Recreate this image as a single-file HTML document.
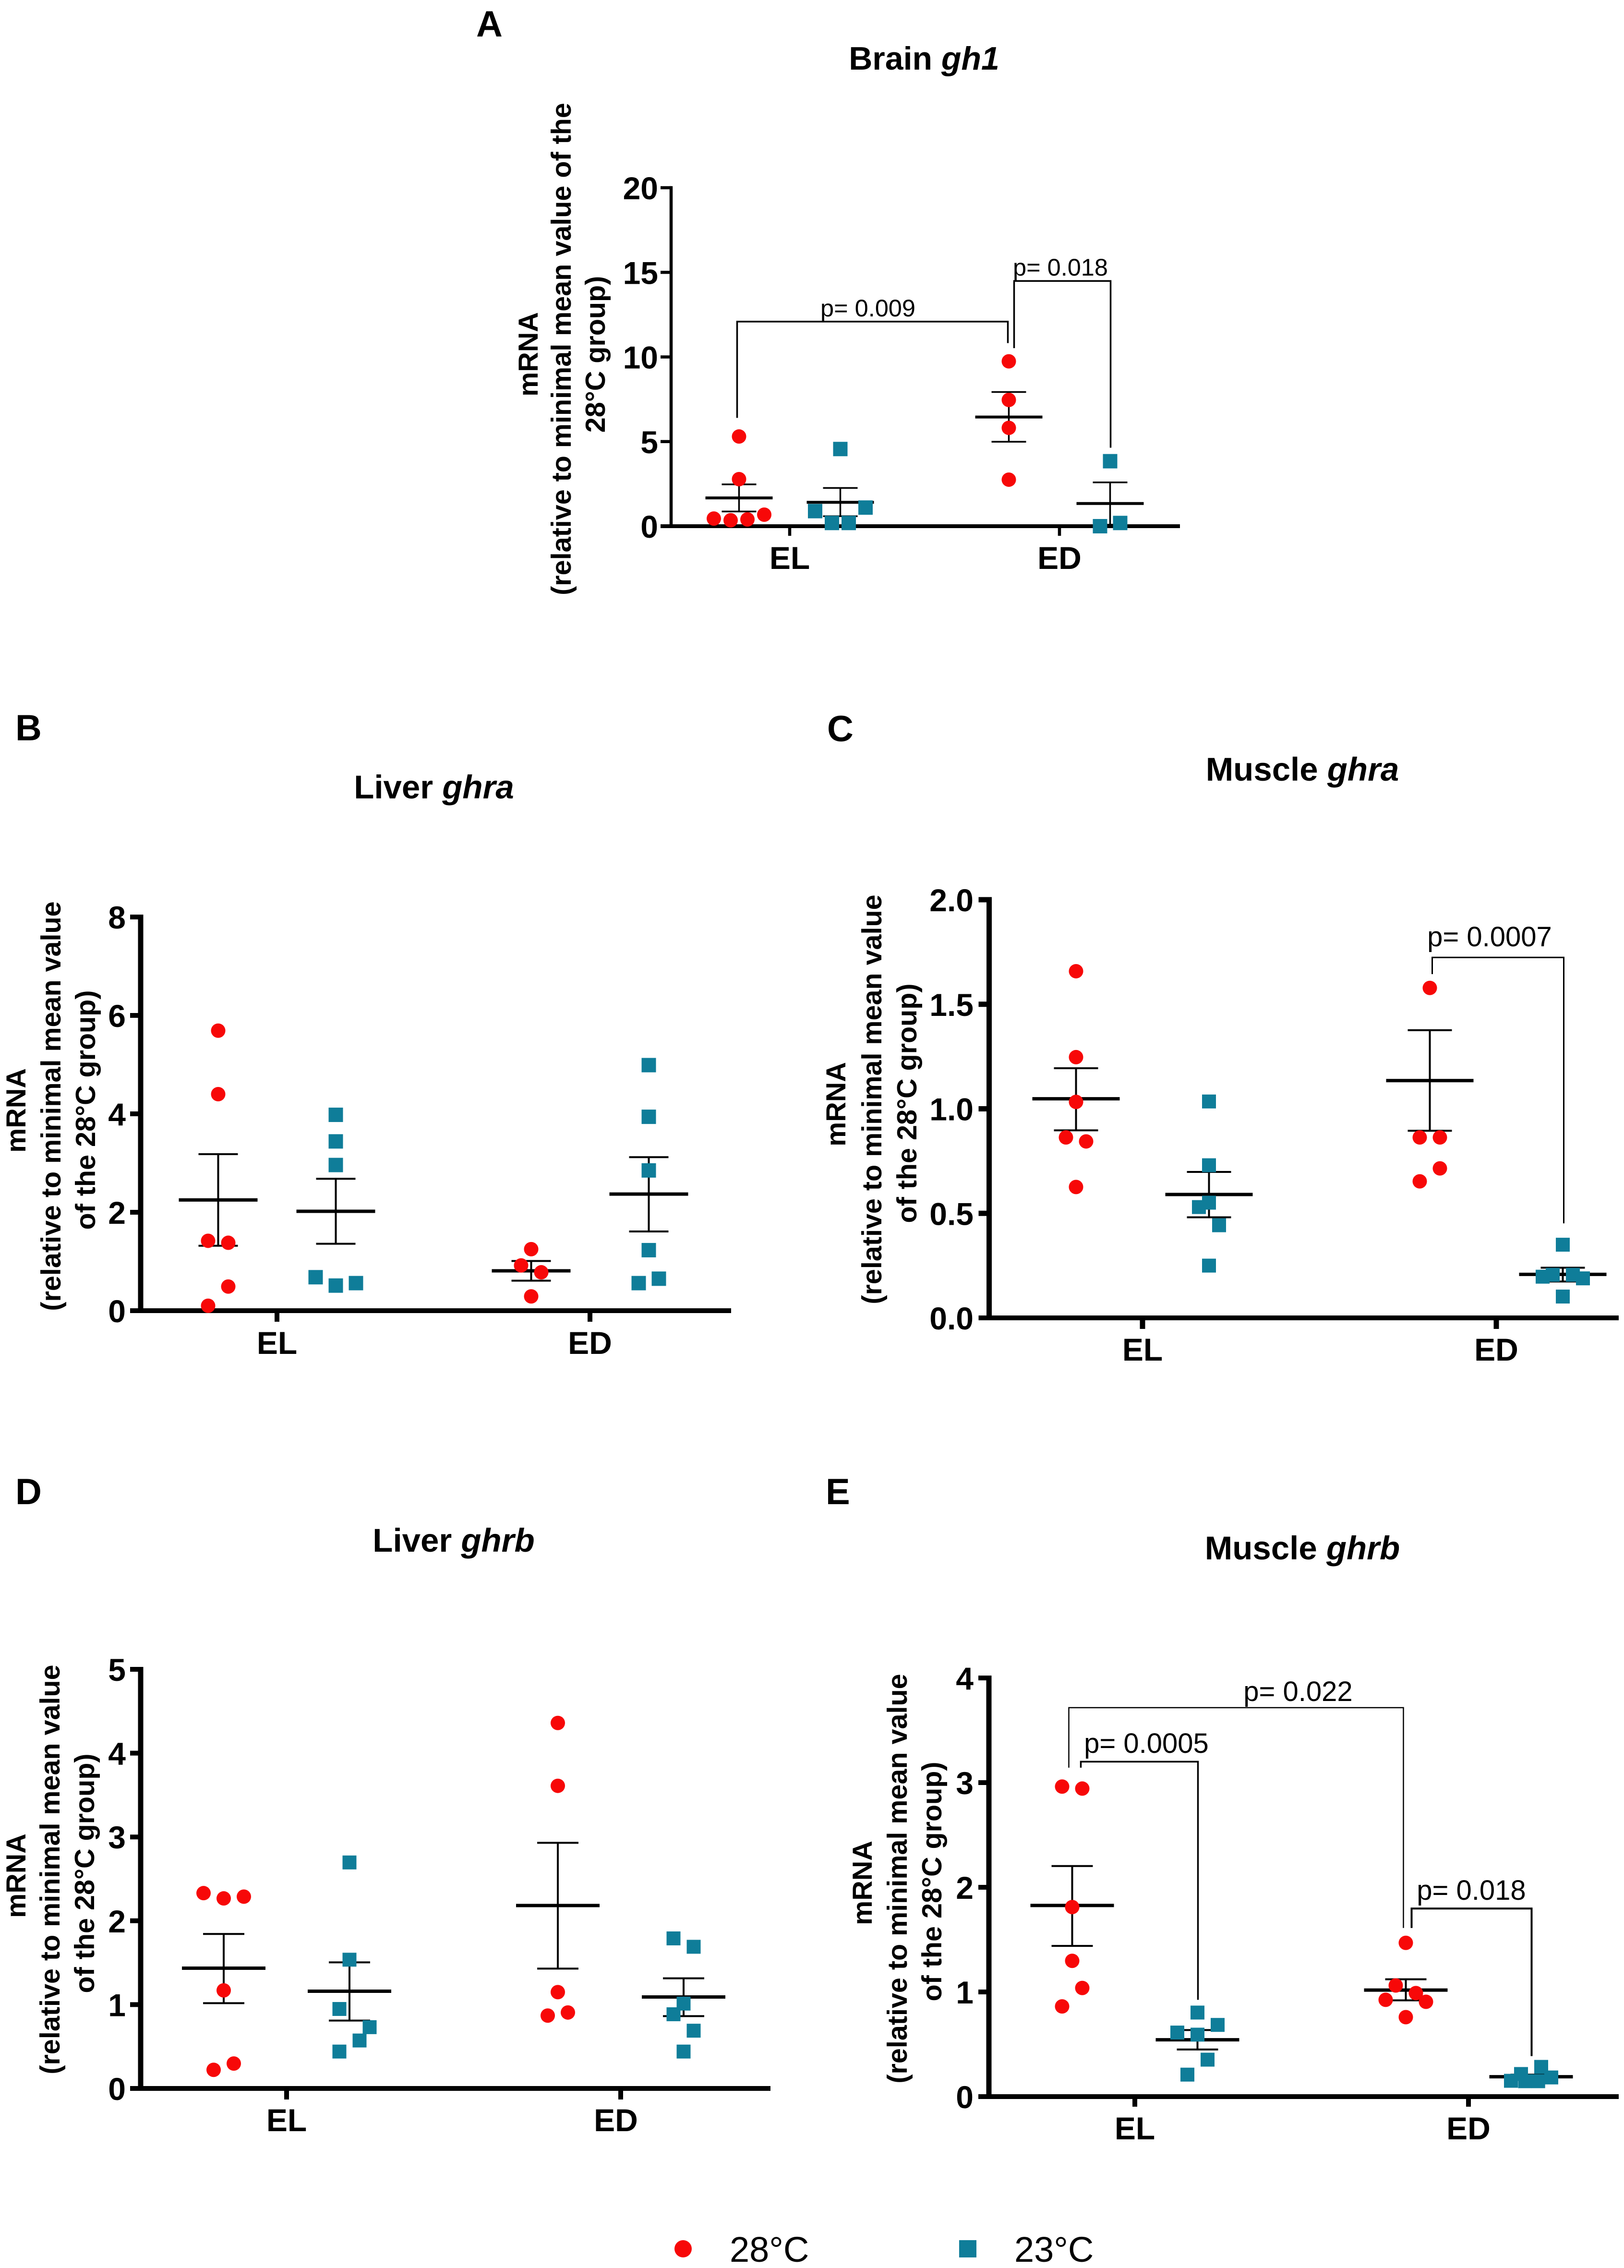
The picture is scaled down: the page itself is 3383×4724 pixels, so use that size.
<!DOCTYPE html>
<html lang="en">
<head>
<meta charset="utf-8">
<title>mRNA expression of gh1, ghra and ghrb at 28°C and 23°C</title>
<style>
html,body{margin:0;padding:0;background:#fff;}
svg{display:block;font-family:"Liberation Sans",Arial,sans-serif;}
.letter{font-weight:700;font-size:76px;fill:#000;}
.title{font-weight:700;font-size:69px;fill:#000;text-anchor:middle;}
.title .it{font-style:italic;}
.ytitle{font-weight:700;font-size:57.5px;fill:#000;text-anchor:middle;}
.pval{font-size:58px;fill:#000;text-anchor:middle;}
.legend{font-size:74px;fill:#000;}
</style>
</head>
<body>
<svg id="figure" xmlns="http://www.w3.org/2000/svg" width="3383" height="4724" viewBox="0 0 3383 4724">
  <rect x="0" y="0" width="3383" height="4724" fill="#ffffff"/>

  <g id="panel-a">
    <text class="letter" x="992" y="76">A</text>
    <text class="title" style="font-size:68px" x="1925" y="145">Brain <tspan class="it">gh1</tspan></text>
    <text class="ytitle" transform="translate(1120,738) rotate(-90)">mRNA</text>
    <text class="ytitle" transform="translate(1189,727) rotate(-90)">(relative to minimal mean value of the</text>
    <text class="ytitle" transform="translate(1260,738) rotate(-90)">28°C group)</text>
    <text class="pval" style="font-size:50.5px" x="1808" y="659">p= 0.009</text>
    <text class="pval" style="font-size:50.5px" x="2209" y="574">p= 0.018</text>
  </g>

  <g id="panel-b">
    <text class="letter" x="32" y="1542">B</text>
    <text class="title" x="904" y="1663">Liver <tspan class="it">ghra</tspan></text>
    <text class="ytitle" transform="translate(53,2313) rotate(-90)">mRNA</text>
    <text class="ytitle" transform="translate(126,2304) rotate(-90)">(relative to minimal mean value</text>
    <text class="ytitle" transform="translate(198,2312) rotate(-90)">of the 28°C group)</text>
  </g>

  <g id="panel-c">
    <text class="letter" x="1723" y="1544">C</text>
    <text class="title" x="2713" y="1626">Muscle <tspan class="it">ghra</tspan></text>
    <text class="ytitle" transform="translate(1761,2300) rotate(-90)">mRNA</text>
    <text class="ytitle" transform="translate(1836,2290) rotate(-90)">(relative to minimal mean value</text>
    <text class="ytitle" transform="translate(1909,2298) rotate(-90)">of the 28°C group)</text>
    <text class="pval" x="3103" y="1971">p= 0.0007</text>
  </g>

  <g id="panel-d">
    <text class="letter" x="32" y="3133">D</text>
    <text class="title" x="945" y="3232">Liver <tspan class="it">ghrb</tspan></text>
    <text class="ytitle" transform="translate(53,3907) rotate(-90)">mRNA</text>
    <text class="ytitle" transform="translate(124,3894) rotate(-90)">(relative to minimal mean value</text>
    <text class="ytitle" transform="translate(196,3902) rotate(-90)">of the 28°C group)</text>
  </g>

  <g id="panel-e">
    <text class="letter" x="1720" y="3133">E</text>
    <text class="title" x="2713" y="3248">Muscle <tspan class="it">ghrb</tspan></text>
    <text class="ytitle" transform="translate(1816,3922) rotate(-90)">mRNA</text>
    <text class="ytitle" transform="translate(1889,3913) rotate(-90)">(relative to minimal mean value</text>
    <text class="ytitle" transform="translate(1961,3919) rotate(-90)">of the 28°C group)</text>
    <text class="pval" x="2704" y="3543">p= 0.022</text>
    <text class="pval" x="2388" y="3651">p= 0.0005</text>
    <text class="pval" x="3065" y="3957">p= 0.018</text>
  </g>

  <g id="legend">
    <g>
      <circle cx="1423" cy="4684" r="18" fill="#f70808"/>
      <text class="legend" x="1520" y="4711">28°C</text>
    </g>
    <g>
      <rect x="1998" y="4666" width="36" height="36" fill="#0f7d99"/>
      <text class="legend" x="2113" y="4711">23°C</text>
    </g>
  </g>
</svg>

<script>
// ---------- Panel A: Brain gh1 ----------
const panelACategories = ['EL', 'ED'];
const panelATicks = [0, 5, 10, 15, 20];
const panelATickLabels = ['0', '5', '10', '15', '20'];
const panelA28EL = [5.3, 2.78, 0.45, 0.35, 0.4, 0.68];
const panelA28ELSlots = [0, 0, -1.5, -0.5, 0.5, 1.5];
const panelA23EL = [4.56, 0.89, 1.1, 0.19, 0.19];
const panelA23ELSlots = [0, -1.5, 1.5, -0.5, 0.5];
const panelA28ED = [9.74, 7.46, 5.81, 2.75];
const panelA28EDSlots = [0, 0, 0, 0];
const panelA23ED = [3.84, 0.0, 0.19];
const panelA23EDSlots = [0, -0.6, 0.6];
const panelAMeans = [1.67, 1.41, 6.45, 1.34];
const panelASemHigh = [2.47, 2.26, 7.93, 2.59];
const panelASemLow = [0.87, 0.59, 4.99, 0.09];
const panelABracketLevels = [[6.4, 12.09, 10.82], [10.52, 14.49, 4.64]];

// ---------- Panel B: Liver ghra ----------
const panelBCategories = ['EL', 'ED'];
const panelBTicks = [0, 2, 4, 6, 8];
const panelBTickLabels = ['0', '2', '4', '6', '8'];
const panelB28EL = [5.69, 4.4, 1.42, 1.38, 0.49, 0.1];
const panelB28ELSlots = [0, 0, -1, 1, 1, -1];
const panelB23EL = [3.98, 3.44, 2.96, 0.68, 0.51, 0.56];
const panelB23ELSlots = [0, 0, 0, -2, 0, 2];
const panelB28ED = [1.25, 0.92, 0.78, 0.29];
const panelB28EDSlots = [0, -1, 1, 0];
const panelB23ED = [4.99, 3.94, 2.85, 1.23, 0.56, 0.65];
const panelB23EDSlots = [0, 0, 0, 0, -1, 1];
const panelBMeans = [2.25, 2.02, 0.81, 2.37];
const panelBSemHigh = [3.18, 2.68, 1.01, 3.12];
const panelBSemLow = [1.32, 1.36, 0.61, 1.61];
const panelBBracketLevels = [];

// ---------- Panel C: Muscle ghra ----------
const panelCCategories = ['EL', 'ED'];
const panelCTicks = [0, 0.5, 1, 1.5, 2];
const panelCTickLabels = ['0.0', '0.5', '1.0', '1.5', '2.0'];
const panelC28EL = [1.658, 1.247, 1.033, 0.863, 0.844, 0.626];
const panelC28ELSlots = [0, 0, 0, -1, 1, 0];
const panelC23EL = [1.035, 0.73, 0.551, 0.53, 0.443, 0.25];
const panelC23ELSlots = [0, 0, 0, -1, 1, 0];
const panelC28ED = [1.578, 0.863, 0.863, 0.715, 0.653];
const panelC28EDSlots = [0, -1, 1, 1, -1];
const panelC23ED = [0.35, 0.206, 0.206, 0.197, 0.189, 0.102];
const panelC23EDSlots = [0, -1, 1, -2, 2, 0];
const panelCMeans = [1.048, 0.59, 1.135, 0.208];
const panelCSemHigh = [1.194, 0.698, 1.376, 0.24];
const panelCSemLow = [0.897, 0.481, 0.895, 0.174];
const panelCBracketLevels = [[1.644, 1.724, 0.452]];

// ---------- Panel D: Liver ghrb ----------
const panelDCategories = ['EL', 'ED'];
const panelDTicks = [0, 1, 2, 3, 4, 5];
const panelDTickLabels = ['0', '1', '2', '3', '4', '5'];
const panelD28EL = [2.33, 2.267, 2.288, 1.17, 0.297, 0.222];
const panelD28ELSlots = [-2, 0, 2, 0, 1, -1];
const panelD23EL = [2.696, 1.536, 0.948, 0.731, 0.572, 0.44];
const panelD23ELSlots = [0, 0, -1, 2, 1, -1];
const panelD28ED = [4.36, 3.61, 1.149, 0.906, 0.869];
const panelD28EDSlots = [0, 0, 0, 1, -1];
const panelD23ED = [1.79, 1.69, 1.012, 0.885, 0.689, 0.44];
const panelD23EDSlots = [-1, 1, 0, -1, 1, 0];
const panelDMeans = [1.435, 1.16, 2.182, 1.091];
const panelDSemHigh = [1.843, 1.504, 2.93, 1.314];
const panelDSemLow = [1.017, 0.81, 1.43, 0.863];
const panelDBracketLevels = [];

// ---------- Panel E: Muscle ghrb ----------
const panelECategories = ['EL', 'ED'];
const panelETicks = [0, 1, 2, 3, 4];
const panelETickLabels = ['0', '1', '2', '3', '4'];
const panelE28EL = [2.962, 2.943, 1.811, 1.297, 1.038, 0.862];
const panelE28ELSlots = [-1, 1, 0, 0, 1, -1];
const panelE23EL = [0.803, 0.685, 0.612, 0.592, 0.353, 0.21];
const panelE23ELSlots = [0, 2, -2, 0, 1, -1];
const panelE28ED = [1.469, 1.062, 0.989, 0.925, 0.906, 0.759];
const panelE28EDSlots = [0, -1, 1, -2, 2, 0];
const panelE23ED = [0.284, 0.216, 0.183, 0.151, 0.147, 0.147];
const panelE23EDSlots = [1, -1, 2, -2, -0.6, 0.7];
const panelEMeans = [1.826, 0.543, 1.018, 0.19];
const panelESemHigh = [2.203, 0.636, 1.121, 0.21];
const panelESemLow = [1.44, 0.45, 0.92, 0.17];
const panelEBracketLevels = [[3.143, 3.716, 1.611], [3.143, 3.2, 0.925], [1.611, 1.797, 0.387]];

// ---------- Layout (geometry only; data lives in the arrays above) ----------
const RED = '#f70808';
const TEAL = '#0f7d99';
const SVG_NS = 'http://www.w3.org/2000/svg';

const panels = [
  { key: 'a', cats: panelACategories, ticks: panelATicks, tickLabels: panelATickLabels,
    groups: [[panelA28EL, panelA28ELSlots], [panelA23EL, panelA23ELSlots], [panelA28ED, panelA28EDSlots], [panelA23ED, panelA23EDSlots]],
    means: panelAMeans, high: panelASemHigh, low: panelASemLow, levels: panelABracketLevels,
    axisX: 1398, endX: 2458, y0: 1096, yTop: 391, vMax: 20, cat0: 1645, catStep: 562, seriesOff: 105.5,
    meanHalf: 70, capHalf: 36, slotPx: 35, r: 15, sq: 30, yAxisW: 6.5, xAxisW: 8, tickW: 6.5, tickLen: 22, xTickLen: 16,
    labelRight: 1371, catBase: 1185, catLabelDx: [0, 0], meanW: 6, bars: 3.5,
    brackets: [{ from: 0, to: 2, dx1: -4, dx2: -2, w: 3.5 }, { from: 2, to: 3, dx1: 11, dx2: 1, w: 3.5 }] },
  { key: 'b', cats: panelBCategories, ticks: panelBTicks, tickLabels: panelBTickLabels,
    groups: [[panelB28EL, panelB28ELSlots], [panelB23EL, panelB23ELSlots], [panelB28ED, panelB28EDSlots], [panelB23ED, panelB23EDSlots]],
    means: panelBMeans, high: panelBSemHigh, low: panelBSemLow, levels: panelBBracketLevels,
    axisX: 293, endX: 1523, y0: 2730, yTop: 1910, vMax: 8, cat0: 577, catStep: 652, seriesOff: 122.5,
    meanHalf: 82, capHalf: 41, slotPx: 21, r: 15, sq: 30, yAxisW: 11, xAxisW: 10, tickW: 10, tickLen: 22, xTickLen: 18,
    labelRight: 262, catBase: 2820, catLabelDx: [0, 0], meanW: 7, bars: 4, brackets: [] },
  { key: 'c', cats: panelCCategories, ticks: panelCTicks, tickLabels: panelCTickLabels,
    groups: [[panelC28EL, panelC28ELSlots], [panelC23EL, panelC23ELSlots], [panelC28ED, panelC28EDSlots], [panelC23ED, panelC23EDSlots]],
    means: panelCMeans, high: panelCSemHigh, low: panelCSemLow, levels: panelCBracketLevels,
    axisX: 2060.5, endX: 3372, y0: 2745, yTop: 1874, vMax: 2, cat0: 2380, catStep: 737, seriesOff: 138.5,
    meanHalf: 91, capHalf: 46, slotPx: 21, r: 15, sq: 29, yAxisW: 11, xAxisW: 10, tickW: 11, tickLen: 22, xTickLen: 18,
    labelRight: 2028, catBase: 2834, catLabelDx: [0, 0], meanW: 7, bars: 4,
    brackets: [{ from: 2, to: 3, dx1: 5, dx2: 2, w: 3 }] },
  { key: 'd', cats: panelDCategories, ticks: panelDTicks, tickLabels: panelDTickLabels,
    groups: [[panelD28EL, panelD28ELSlots], [panelD23EL, panelD23ELSlots], [panelD28ED, panelD28EDSlots], [panelD23ED, panelD23EDSlots]],
    means: panelDMeans, high: panelDSemHigh, low: panelDSemLow, levels: panelDBracketLevels,
    axisX: 293, endX: 1605, y0: 4350, yTop: 3477, vMax: 5, cat0: 597, catStep: 696, seriesOff: 131,
    meanHalf: 87, capHalf: 43, slotPx: 21, r: 15, sq: 29, yAxisW: 11, xAxisW: 10, tickW: 10, tickLen: 22, xTickLen: 18,
    labelRight: 262, catBase: 4439, catLabelDx: [0, -10], meanW: 7, bars: 4, brackets: [] },
  { key: 'e', cats: panelECategories, ticks: panelETicks, tickLabels: panelETickLabels,
    groups: [[panelE28EL, panelE28ELSlots], [panelE23EL, panelE23ELSlots], [panelE28ED, panelE28EDSlots], [panelE23ED, panelE23EDSlots]],
    means: panelEMeans, high: panelESemHigh, low: panelESemLow, levels: panelEBracketLevels,
    axisX: 2060, endX: 3372, y0: 4367, yTop: 3495, vMax: 4, cat0: 2364, catStep: 695, seriesOff: 130.5,
    meanHalf: 87, capHalf: 43, slotPx: 21, r: 15, sq: 29, yAxisW: 11, xAxisW: 10, tickW: 10, tickLen: 22, xTickLen: 16,
    labelRight: 2028, catBase: 4456, catLabelDx: [0, 0], meanW: 7, bars: 4,
    brackets: [{ from: 0, to: 2, dx1: -7, dx2: -5, w: 2.5 }, { from: 0, to: 1, dx1: 18, dx2: 1, w: 3.5 }, { from: 2, to: 3, dx1: 12, dx2: 1, w: 4 }] }
];

function makeLine(parent, x1, y1, x2, y2, w) {
  const ln = document.createElementNS(SVG_NS, 'line');
  ln.setAttribute('x1', x1);
  ln.setAttribute('y1', y1);
  ln.setAttribute('x2', x2);
  ln.setAttribute('y2', y2);
  ln.setAttribute('stroke', '#000');
  ln.setAttribute('stroke-width', w);
  parent.appendChild(ln);
  return ln;
}

function drawPanel(p) {
  const root = document.getElementById('panel-' + p.key);
  const yScale = function (v) { return p.y0 - (v / p.vMax) * (p.y0 - p.yTop); };
  const catX = function (c) { return p.cat0 + c * p.catStep; };
  const groupX = function (g) {
    const cat = Math.floor(g / 2);
    const series = g % 2;
    return catX(cat) + (series === 0 ? -p.seriesOff : p.seriesOff);
  };

  // x axis and y axis
  const yAxis = makeLine(root, p.axisX, p.yTop - p.tickW / 2, p.axisX, p.y0 + p.xAxisW / 2, p.yAxisW);
  
  
  const xAxis = makeLine(root, p.axisX - p.tickLen, p.y0, p.endX, p.y0, p.xAxisW);
  
  

  // y ticks and labels
  p.ticks.forEach(function (t, i) {
    const y = yScale(t);
    if (t !== 0) {
      const tk = makeLine(root, p.axisX - p.tickLen, y, p.axisX, y, p.tickW);
      
      
    }
    const lb = document.createElementNS(SVG_NS, 'text');
    
    
    lb.setAttribute('x', p.labelRight);
    lb.setAttribute('y', y + 24);
    lb.setAttribute('text-anchor', 'end');
    lb.setAttribute('font-weight', '700');
    lb.setAttribute('font-size', '66');
    lb.textContent = p.tickLabels[i];
    root.appendChild(lb);
  });

  // x ticks and category labels
  p.cats.forEach(function (name, c) {
    const x = catX(c);
    const tk = makeLine(root, x, p.y0, x, p.y0 + p.xAxisW / 2 + p.xTickLen, p.tickW);
    
    
    const lb = document.createElementNS(SVG_NS, 'text');
    
    
    lb.setAttribute('x', x + p.catLabelDx[c]);
    lb.setAttribute('y', p.catBase);
    lb.setAttribute('text-anchor', 'middle');
    lb.setAttribute('font-weight', '700');
    lb.setAttribute('font-size', '66');
    lb.textContent = name;
    root.appendChild(lb);
  });

  // significance brackets
  p.brackets.forEach(function (b, i) {
    const lv = p.levels[i];
    const x1 = groupX(b.from) + b.dx1;
    const x2 = groupX(b.to) + b.dx2;
    const br = document.createElementNS(SVG_NS, 'polyline');
    
    
    br.setAttribute('points', [x1, yScale(lv[0]), x1, yScale(lv[1]), x2, yScale(lv[1]), x2, yScale(lv[2])].join(' '));
    br.setAttribute('fill', 'none');
    br.setAttribute('stroke', '#000');
    br.setAttribute('stroke-width', b.w);
    root.appendChild(br);
  });

  // mean and SEM
  p.means.forEach(function (m, g) {
    const x = groupX(g);
    const stem = makeLine(root, x, yScale(p.high[g]), x, yScale(p.low[g]), p.bars);
    
    
    const capHigh = makeLine(root, x - p.capHalf, yScale(p.high[g]), x + p.capHalf, yScale(p.high[g]), p.bars);
    
    
    const capLow = makeLine(root, x - p.capHalf, yScale(p.low[g]), x + p.capHalf, yScale(p.low[g]), p.bars);
    
    
    const meanLine = makeLine(root, x - p.meanHalf, yScale(m), x + p.meanHalf, yScale(m), p.meanW);
    
    
  });

  // points
  p.groups.forEach(function (grp, g) {
    const values = grp[0];
    const slots = grp[1];
    const isRed = g % 2 === 0;
    values.forEach(function (v, i) {
      const cx = groupX(g) + slots[i] * p.slotPx;
      const cy = yScale(v);
      let mark;
      if (isRed) {
        mark = document.createElementNS(SVG_NS, 'circle');
        mark.setAttribute('cx', cx);
        mark.setAttribute('cy', cy);
        mark.setAttribute('r', p.r);
        mark.setAttribute('fill', RED);
      } else {
        mark = document.createElementNS(SVG_NS, 'rect');
        mark.setAttribute('x', cx - p.sq / 2);
        mark.setAttribute('y', cy - p.sq / 2);
        mark.setAttribute('width', p.sq);
        mark.setAttribute('height', p.sq);
        mark.setAttribute('fill', TEAL);
      }
      
      
      root.appendChild(mark);
    });
  });
}

panels.forEach(drawPanel);
</script>
</body>
</html>
